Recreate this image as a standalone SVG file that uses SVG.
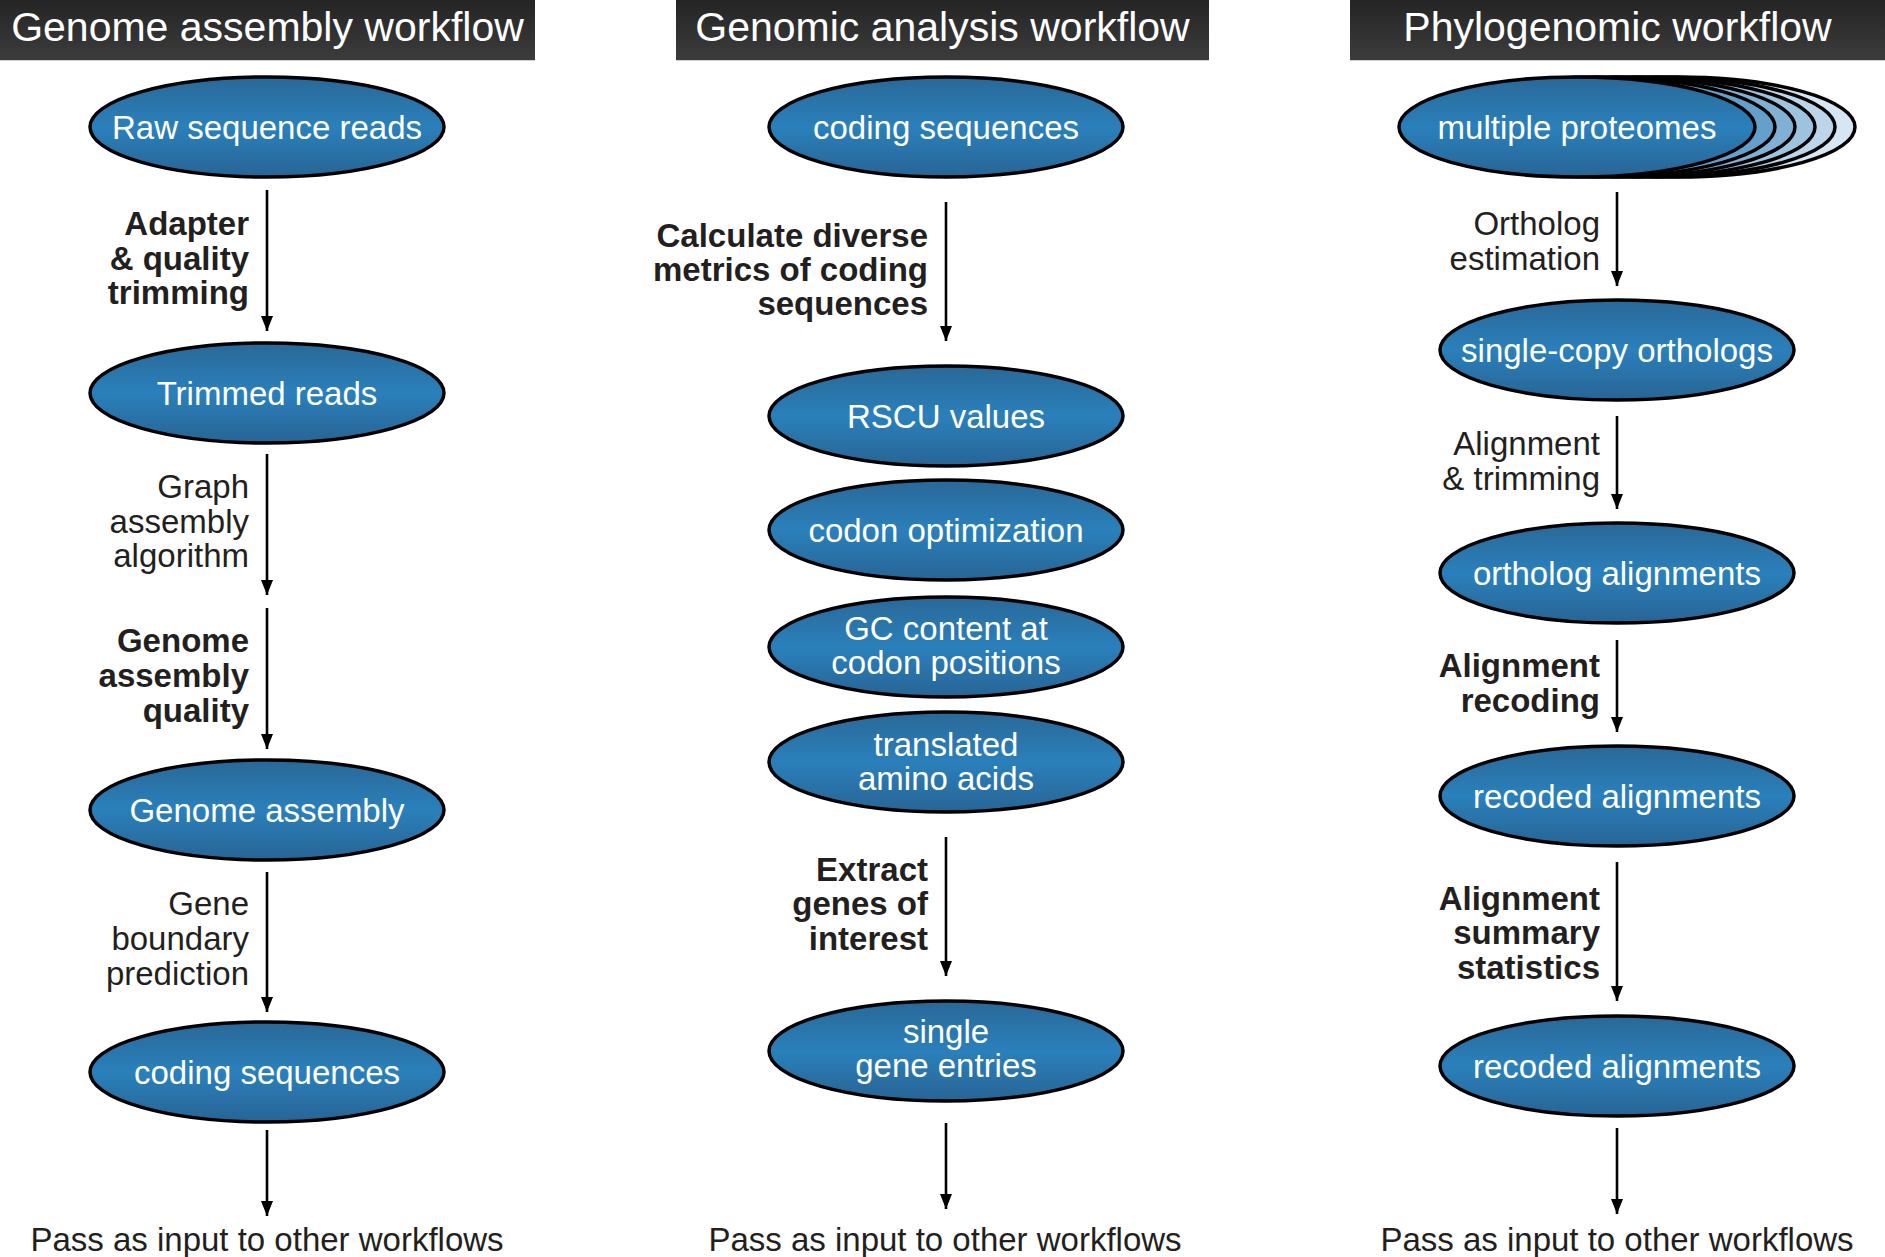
<svg xmlns="http://www.w3.org/2000/svg" width="1885" height="1257" viewBox="0 0 1885 1257">
<style>
.bar{fill:url(#barGrad)}
.title{font-family:"Liberation Sans",Arial,sans-serif;font-size:41px;fill:#ffffff;text-anchor:middle}
.node ellipse{stroke:#000;stroke-width:3.5}
.ntext{font-family:"Liberation Sans",Arial,sans-serif;font-size:33px;fill:#ffffff;text-anchor:middle}
.lbl{font-family:"Liberation Sans",Arial,sans-serif;font-size:33px;fill:#231f20;text-anchor:end}
.b{font-weight:bold}
.conn line{stroke:#000;stroke-width:2.6;marker-end:url(#arr)}
.out{font-family:"Liberation Sans",Arial,sans-serif;font-size:33px;fill:#231f20;text-anchor:middle}
</style>
<defs>
<linearGradient id="barGrad" x1="0" y1="0" x2="0" y2="1">
<stop offset="0" stop-color="#242424"/>
<stop offset="1" stop-color="#3c3c3c"/>
</linearGradient>
<linearGradient id="blue" x1="0" y1="0" x2="0" y2="1">
<stop offset="0" stop-color="#2a6897"/>
<stop offset="0.5" stop-color="#2a80bb"/>
<stop offset="1" stop-color="#286495"/>
</linearGradient>
<marker id="arr" viewBox="0 0 15 12" refX="15" refY="6" markerUnits="userSpaceOnUse" markerWidth="15" markerHeight="12" orient="auto">
<path d="M0,0 L15,6 L0,12 Z" fill="#000"/>
</marker>
</defs>
<rect width="1885" height="1257" fill="#ffffff"/>

<g id="titles">
<rect class="bar" x="0" y="0" width="535" height="60"/>
<rect class="bar" x="676" y="0" width="533" height="60"/>
<rect class="bar" x="1350" y="0" width="535" height="60"/>
<line x1="0" y1="60.5" x2="535" y2="60.5" stroke="#cfcfcf" stroke-width="1"/>
<line x1="676" y1="60.5" x2="1209" y2="60.5" stroke="#cfcfcf" stroke-width="1"/>
<line x1="1350" y1="60.5" x2="1885" y2="60.5" stroke="#cfcfcf" stroke-width="1"/>
<text class="title" x="267.5" y="41">Genome assembly workflow</text>
<text class="title" x="942.5" y="41">Genomic analysis workflow</text>
<text class="title" x="1617.5" y="41">Phylogenomic workflow</text>
</g>

<g id="connectors" class="conn">
<line x1="267" y1="190" x2="267" y2="331"/>
<line x1="267" y1="454" x2="267" y2="595"/>
<line x1="267" y1="608" x2="267" y2="749"/>
<line x1="267" y1="872" x2="267" y2="1012"/>
<line x1="267" y1="1130" x2="267" y2="1216"/>
<line x1="946" y1="202" x2="946" y2="341"/>
<line x1="946" y1="837" x2="946" y2="976"/>
<line x1="946" y1="1123" x2="946" y2="1209"/>
<line x1="1617" y1="192" x2="1617" y2="286"/>
<line x1="1617" y1="416" x2="1617" y2="509"/>
<line x1="1617" y1="640" x2="1617" y2="732"/>
<line x1="1617" y1="862" x2="1617" y2="1001"/>
<line x1="1617" y1="1128" x2="1617" y2="1214"/>
</g>

<g id="labels">
<text class="lbl b" x="249" y="235">Adapter</text>
<text class="lbl b" x="249" y="269.5">&amp; quality</text>
<text class="lbl b" x="249" y="304">trimming</text>
<text class="lbl" x="249" y="498">Graph</text>
<text class="lbl" x="249" y="533">assembly</text>
<text class="lbl" x="249" y="567">algorithm</text>
<text class="lbl b" x="249" y="652">Genome</text>
<text class="lbl b" x="249" y="687">assembly</text>
<text class="lbl b" x="249" y="721.5">quality</text>
<text class="lbl" x="249" y="915">Gene</text>
<text class="lbl" x="249" y="950">boundary</text>
<text class="lbl" x="249" y="985">prediction</text>
<text class="lbl b" x="928" y="247">Calculate diverse</text>
<text class="lbl b" x="928" y="281">metrics of coding</text>
<text class="lbl b" x="928" y="315">sequences</text>
<text class="lbl b" x="928" y="881">Extract</text>
<text class="lbl b" x="928" y="915">genes of</text>
<text class="lbl b" x="928" y="950">interest</text>
<text class="lbl" x="1600" y="235">Ortholog</text>
<text class="lbl" x="1600" y="269.5">estimation</text>
<text class="lbl" x="1600" y="455">Alignment</text>
<text class="lbl" x="1600" y="489.5">&amp; trimming</text>
<text class="lbl b" x="1600" y="677">Alignment</text>
<text class="lbl b" x="1600" y="712">recoding</text>
<text class="lbl b" x="1600" y="910">Alignment</text>
<text class="lbl b" x="1600" y="944">summary</text>
<text class="lbl b" x="1600" y="979">statistics</text>
<text class="out" x="267" y="1251">Pass as input to other workflows</text>
<text class="out" x="945" y="1251">Pass as input to other workflows</text>
<text class="out" x="1617" y="1251">Pass as input to other workflows</text>
</g>

<g id="n-raw" class="node"><ellipse cx="267" cy="127" rx="177" ry="50" fill="url(#blue)"/><text class="ntext" x="267" y="139">Raw sequence reads</text></g>
<g id="n-trimmed" class="node"><ellipse cx="267" cy="393" rx="177" ry="50" fill="url(#blue)"/><text class="ntext" x="267" y="405">Trimmed reads</text></g>
<g id="n-assembly" class="node"><ellipse cx="267" cy="810" rx="177" ry="50" fill="url(#blue)"/><text class="ntext" x="267" y="822">Genome assembly</text></g>
<g id="n-cds1" class="node"><ellipse cx="267" cy="1072" rx="177" ry="50" fill="url(#blue)"/><text class="ntext" x="267" y="1084">coding sequences</text></g>

<g id="n-cds2" class="node"><ellipse cx="946" cy="127" rx="177" ry="50" fill="url(#blue)"/><text class="ntext" x="946" y="139">coding sequences</text></g>
<g id="n-rscu" class="node"><ellipse cx="946" cy="416" rx="177" ry="50" fill="url(#blue)"/><text class="ntext" x="946" y="428">RSCU values</text></g>
<g id="n-codonopt" class="node"><ellipse cx="946" cy="530" rx="177" ry="50" fill="url(#blue)"/><text class="ntext" x="946" y="542">codon optimization</text></g>
<g id="n-gc" class="node"><ellipse cx="946" cy="647" rx="177" ry="50" fill="url(#blue)"/><text class="ntext" x="946" y="640">GC content at</text><text class="ntext" x="946" y="674">codon positions</text></g>
<g id="n-aa" class="node"><ellipse cx="946" cy="762" rx="177" ry="50" fill="url(#blue)"/><text class="ntext" x="946" y="756">translated</text><text class="ntext" x="946" y="790">amino acids</text></g>
<g id="n-single" class="node"><ellipse cx="946" cy="1051" rx="177" ry="50" fill="url(#blue)"/><text class="ntext" x="946" y="1043">single</text><text class="ntext" x="946" y="1077">gene entries</text></g>

<g id="n-proteomes" class="node">
<ellipse cx="1677" cy="127" rx="178" ry="50" fill="#d6e6f2"/>
<ellipse cx="1657" cy="127" rx="178" ry="50" fill="#bcd5e9"/>
<ellipse cx="1637" cy="127" rx="178" ry="50" fill="#9ec3df"/>
<ellipse cx="1617" cy="127" rx="178" ry="50" fill="#80b0d4"/>
<ellipse cx="1597" cy="127" rx="178" ry="50" fill="#64a0ca"/>
<ellipse cx="1577" cy="127" rx="178" ry="50" fill="url(#blue)"/>
<text class="ntext" x="1577" y="139">multiple proteomes</text>
</g>
<g id="n-sco" class="node"><ellipse cx="1617" cy="350" rx="177" ry="50" fill="url(#blue)"/><text class="ntext" x="1617" y="362">single-copy orthologs</text></g>
<g id="n-oa" class="node"><ellipse cx="1617" cy="573" rx="177" ry="50" fill="url(#blue)"/><text class="ntext" x="1617" y="585">ortholog alignments</text></g>
<g id="n-rec1" class="node"><ellipse cx="1617" cy="796" rx="177" ry="50" fill="url(#blue)"/><text class="ntext" x="1617" y="808">recoded alignments</text></g>
<g id="n-rec2" class="node"><ellipse cx="1617" cy="1066" rx="177" ry="50" fill="url(#blue)"/><text class="ntext" x="1617" y="1078">recoded alignments</text></g>
</svg>
